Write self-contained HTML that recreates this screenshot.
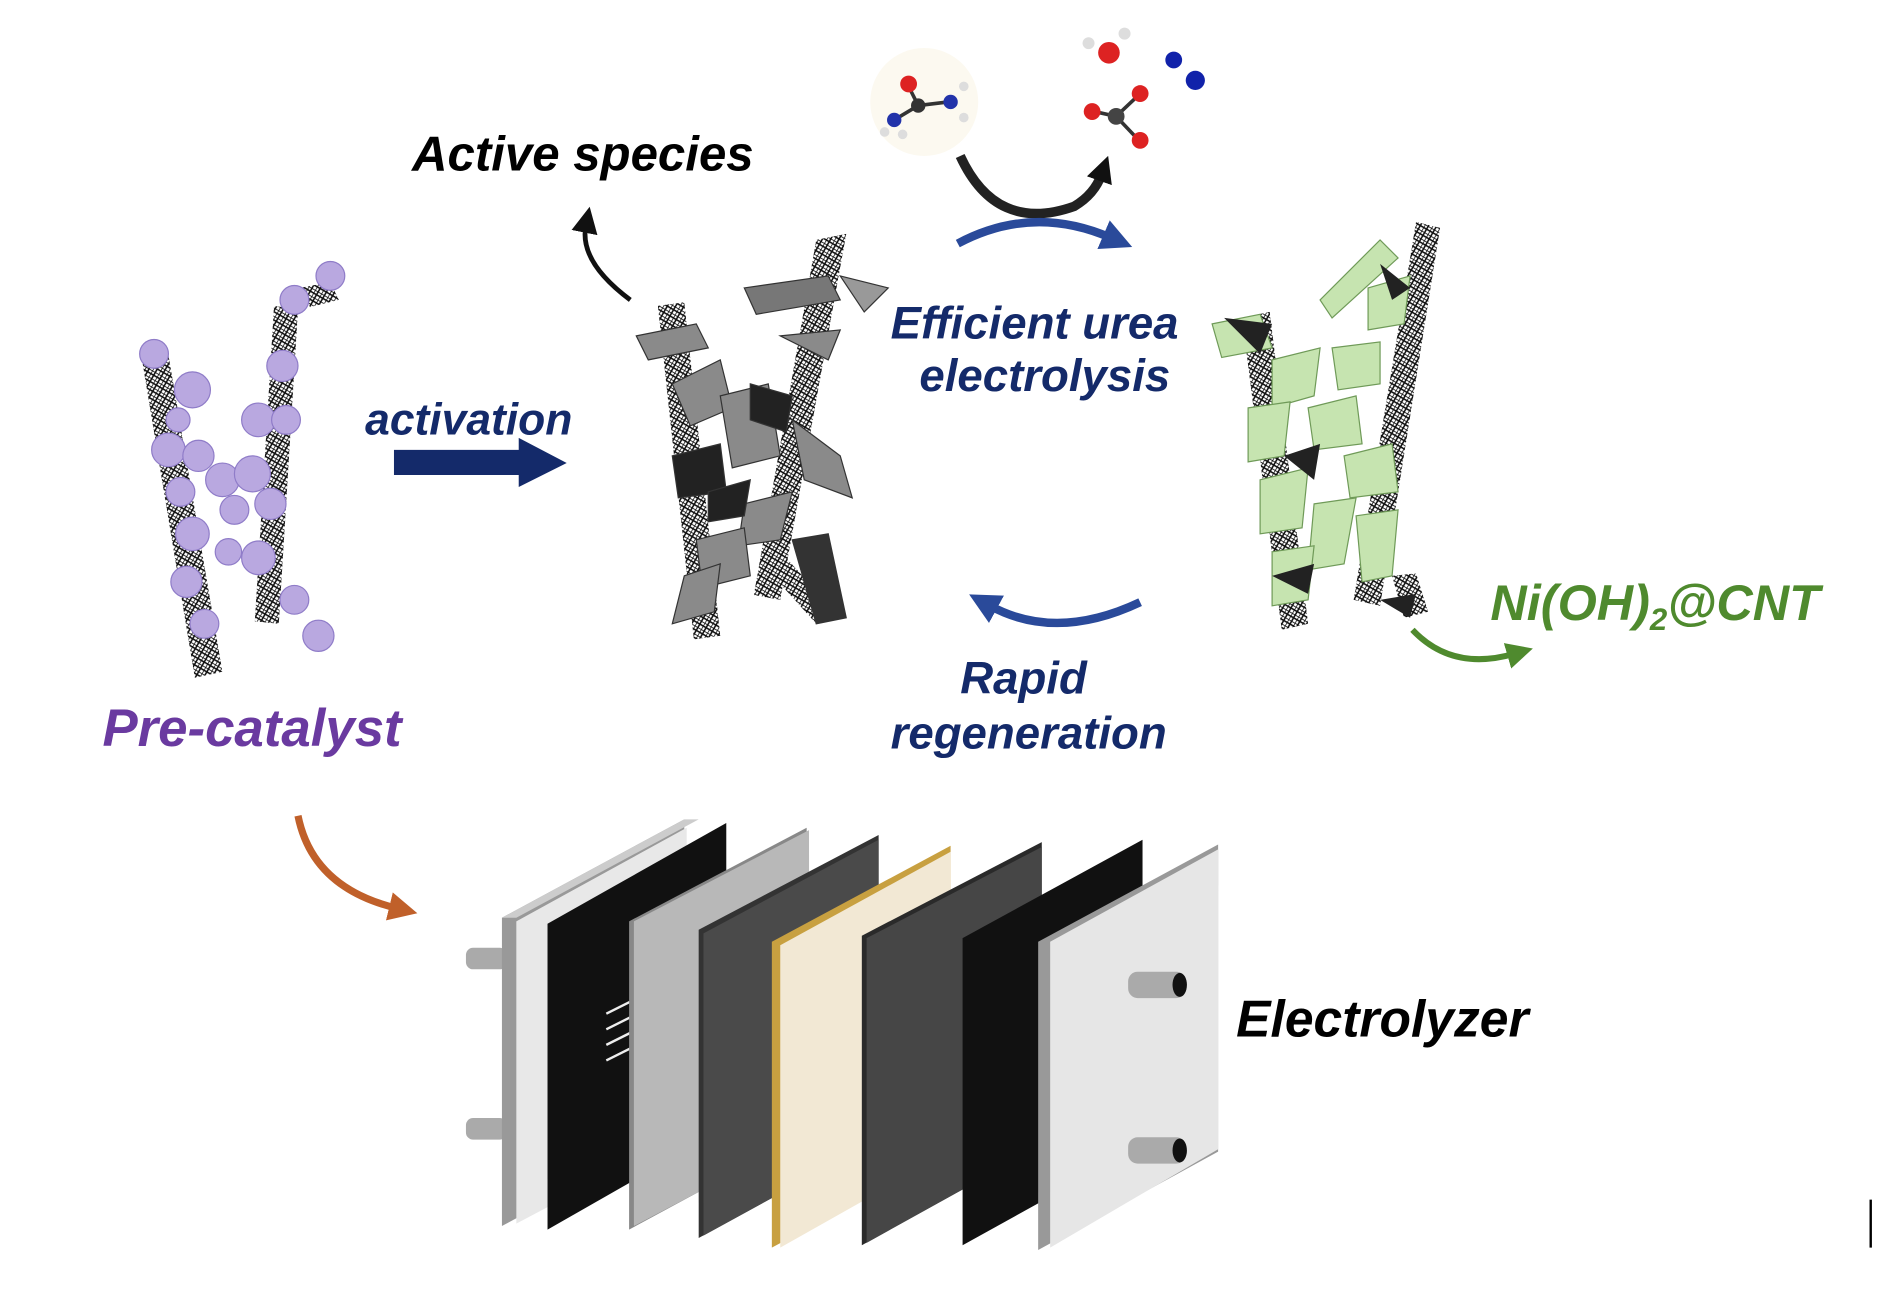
<!DOCTYPE html>
<html><head><meta charset="utf-8"><style>
html,body{margin:0;padding:0;background:#fff;width:1882px;height:1304px;overflow:hidden}
svg{display:block}
text{font-family:"Liberation Sans",sans-serif;font-weight:bold;font-style:italic}
</style></head><body>
<svg width="1882" height="1304" viewBox="0 0 1568 1087" xmlns="http://www.w3.org/2000/svg">
<defs>
<pattern id="hx" width="6" height="6" patternUnits="userSpaceOnUse" patternTransform="rotate(30)">
<rect width="6" height="6" fill="#fff"/><path d="M0 0H6M0 3H6M0 0V6M3 0V6" stroke="#111" stroke-width="1.3"/></pattern>
<marker id="ab" markerUnits="userSpaceOnUse" markerWidth="22" markerHeight="22" refX="6" refY="11" orient="auto"><path d="M0 0L22 11L0 22z" fill="#111"/></marker>
<marker id="abl" markerUnits="userSpaceOnUse" markerWidth="26" markerHeight="26" refX="6" refY="13" orient="auto"><path d="M0 0L26 13L0 26z" fill="#2a4a9a"/></marker>
<marker id="ag" markerUnits="userSpaceOnUse" markerWidth="22" markerHeight="22" refX="6" refY="11" orient="auto"><path d="M0 0L22 11L0 22z" fill="#4f8a2e"/></marker>
<marker id="ao" markerUnits="userSpaceOnUse" markerWidth="24" markerHeight="24" refX="6" refY="12" orient="auto"><path d="M0 0L24 12L0 24z" fill="#c0602a"/></marker>
</defs>

<!-- pre-catalyst -->
<g>
<polygon points="118,300 140,296 185,560 162,565" fill="url(#hx)"/>
<polygon points="228,255 248,258 232,520 212,518" fill="url(#hx)"/>
<polygon points="250,240 275,235 282,250 258,256" fill="url(#hx)"/>
<g fill="#b9a8e0" stroke="#8f7cc8" stroke-width="1">
<circle cx="128" cy="295" r="12"/><circle cx="160" cy="325" r="15"/><circle cx="140" cy="375" r="14"/><circle cx="165" cy="380" r="13"/>
<circle cx="185" cy="400" r="14"/><circle cx="150" cy="410" r="12"/><circle cx="160" cy="445" r="14"/><circle cx="155" cy="485" r="13"/>
<circle cx="170" cy="520" r="12"/><circle cx="245" cy="250" r="12"/><circle cx="275" cy="230" r="12"/><circle cx="235" cy="305" r="13"/>
<circle cx="215" cy="350" r="14"/><circle cx="238" cy="350" r="12"/><circle cx="210" cy="395" r="15"/><circle cx="225" cy="420" r="13"/>
<circle cx="195" cy="425" r="12"/><circle cx="215" cy="465" r="14"/><circle cx="245" cy="500" r="12"/><circle cx="265" cy="530" r="13"/>
<circle cx="190" cy="460" r="11"/><circle cx="148" cy="350" r="10"/></g>
</g>

<!-- middle -->
<g>
<polygon points="548,255 570,252 600,530 578,533" fill="url(#hx)"/>
<polygon points="680,200 705,195 650,500 628,496" fill="url(#hx)"/>
<polygon points="635,470 655,465 700,515 680,520" fill="url(#hx)"/>
<g fill="#8a8a8a" stroke="#333" stroke-width="1">
<polygon points="530,280 580,270 590,290 540,300"/><polygon points="560,320 600,300 610,340 575,355"/>
<polygon points="620,240 690,230 700,250 630,262" fill="#777"/><polygon points="650,280 700,275 690,300"/>
<polygon points="600,330 640,320 650,380 610,390"/><polygon points="660,350 700,380 710,415 670,400"/>
<polygon points="560,380 600,370 605,410 565,415" fill="#222"/><polygon points="620,420 660,410 650,450 615,455"/>
<polygon points="580,450 620,440 625,480 585,490"/><polygon points="660,450 690,445 705,515 680,520" fill="#333"/>
<polygon points="625,320 660,330 655,360 625,350" fill="#222"/><polygon points="570,480 600,470 595,510 560,520"/>
<polygon points="700,230 740,240 720,260" fill="#999"/><polygon points="590,410 625,400 620,430 590,435" fill="#222"/>
</g></g>

<!-- right green -->
<g>
<polygon points="1035,265 1058,260 1090,520 1068,525" fill="url(#hx)"/>
<polygon points="1180,185 1200,190 1150,505 1128,500" fill="url(#hx)"/>
<polygon points="1160,480 1180,478 1190,510 1170,515" fill="url(#hx)"/>
<g fill="#c6e4b0" stroke="#6f9a58" stroke-width="1">
<polygon points="1010,270 1050,262 1060,290 1018,298"/><polygon points="1100,250 1150,200 1165,215 1110,265"/>
<polygon points="1060,300 1100,290 1095,330 1060,340"/><polygon points="1110,290 1150,285 1150,320 1115,325"/>
<polygon points="1040,340 1075,335 1070,380 1040,385"/><polygon points="1090,340 1130,330 1135,370 1095,375"/>
<polygon points="1120,380 1160,370 1165,410 1125,415"/><polygon points="1050,400 1090,390 1085,440 1050,445"/>
<polygon points="1095,420 1130,415 1120,470 1090,475"/><polygon points="1130,430 1165,425 1160,480 1135,485"/>
<polygon points="1060,460 1095,455 1090,500 1060,505"/><polygon points="1140,240 1175,230 1170,270 1140,275"/>
</g>
<g fill="#222"><polygon points="1020,265 1060,270 1050,295"/><polygon points="1150,220 1175,240 1160,250"/>
<polygon points="1070,380 1100,370 1095,400"/><polygon points="1150,500 1180,495 1175,515"/><polygon points="1060,480 1095,470 1090,495"/></g>
</g>

<!-- molecules -->
<circle cx="770" cy="85" r="45" fill="#fbf7ea" opacity="0.7"/>
<g stroke="#333" stroke-width="3">
<line x1="757" y1="72" x2="765" y2="88"/><line x1="765" y1="88" x2="745" y2="100"/><line x1="765" y1="88" x2="790" y2="85"/>
<line x1="930" y1="97" x2="912" y2="93"/><line x1="930" y1="97" x2="948" y2="80"/><line x1="930" y1="97" x2="948" y2="116"/></g>
<circle cx="757" cy="70" r="7" fill="#d22"/><circle cx="765" cy="88" r="6" fill="#333"/><circle cx="745" cy="100" r="6" fill="#23a"/>
<circle cx="792" cy="85" r="6" fill="#23a"/><circle cx="737" cy="110" r="4" fill="#ddd"/><circle cx="752" cy="112" r="4" fill="#ddd"/>
<circle cx="803" cy="72" r="4" fill="#ddd"/><circle cx="803" cy="98" r="4" fill="#ddd"/>
<circle cx="924" cy="44" r="9" fill="#d22"/><circle cx="907" cy="36" r="5" fill="#ddd"/><circle cx="937" cy="28" r="5" fill="#ddd"/>
<circle cx="978" cy="50" r="7" fill="#12a"/><circle cx="996" cy="67" r="8" fill="#12a"/>
<circle cx="930" cy="97" r="7" fill="#444"/><circle cx="910" cy="93" r="7" fill="#d22"/><circle cx="950" cy="78" r="7" fill="#d22"/><circle cx="950" cy="117" r="7" fill="#d22"/>

<!-- arrows -->
<path d="M525 250 Q482 218 488 188" fill="none" stroke="#111" stroke-width="4" marker-end="url(#ab)"/>
<path d="M800 130 Q830 195 895 172 Q912 162 918 145" fill="none" stroke="#222" stroke-width="8" marker-end="url(#ab)"/>
<path d="M798 203 Q860 170 925 198" fill="none" stroke="#2a4a9a" stroke-width="7" marker-end="url(#abl)"/>
<path d="M950 502 Q880 535 825 505" fill="none" stroke="#2a4a9a" stroke-width="7" marker-end="url(#abl)"/>
<path d="M1177 525 Q1210 560 1262 545" fill="none" stroke="#4f8a2e" stroke-width="5" marker-end="url(#ag)"/>
<path d="M248 680 Q260 740 330 757" fill="none" stroke="#c0602a" stroke-width="6" marker-end="url(#ao)"/>
<polygon points="328,375 432,375 432,365 472,386 432,406 432,396 328,396" fill="#142a6a"/>

<!-- pins left -->
<rect x="388" y="790" width="34" height="18" rx="6" fill="#aaa"/><rect x="388" y="932" width="34" height="18" rx="6" fill="#aaa"/>

<!-- plates -->
<g>
<polygon points="418,765 570,683 570,940 418,1022" fill="#999"/><polygon points="430,765 582,683 570,683 418,765" fill="#ccc"/>
<polygon points="430,768 572,690 572,945 430,1020" fill="#e8e8e8"/>
<polygon points="456,770 605,686 605,940 456,1025" fill="#111"/>
<g stroke="#eee" stroke-width="2"><line x1="505" y1="845" x2="525" y2="835"/><line x1="505" y1="858" x2="525" y2="848"/><line x1="505" y1="871" x2="525" y2="861"/><line x1="505" y1="884" x2="525" y2="874"/></g>
<polygon points="524,768 672,690 672,945 524,1025" fill="#888"/><polygon points="528,768 674,692 674,945 528,1022" fill="#b8b8b8"/>
<polygon points="582,775 732,696 732,950 582,1032" fill="#333"/><polygon points="586,778 732,700 732,950 586,1030" fill="#4a4a4a"/>
<polygon points="643,785 792,705 792,960 643,1040" fill="#c8a040"/><polygon points="650,788 792,710 792,960 650,1040" fill="#f2e8d4"/>
<polygon points="718,780 868,702 868,955 718,1038" fill="#2a2a2a"/><polygon points="722,782 868,706 868,955 722,1036" fill="#464646"/>
<polygon points="802,782 952,700 952,955 802,1038" fill="#111"/>
<polygon points="865,785 1015,704 1015,960 865,1042" fill="#999"/><polygon points="875,785 1015,708 1015,958 875,1040" fill="#e6e6e6"/>
</g>
<g><rect x="940" y="810" width="48" height="22" rx="8" fill="#aaa"/><ellipse cx="983" cy="821" rx="6" ry="10" fill="#111"/>
<rect x="940" y="948" width="48" height="22" rx="8" fill="#aaa"/><ellipse cx="983" cy="959" rx="6" ry="10" fill="#111"/></g>
<line x1="1559" y1="1000" x2="1559" y2="1040" stroke="#000" stroke-width="2"/>

<!-- labels -->
<text x="343" y="142" font-size="41" fill="#000">Active species</text>
<text x="304" y="362" font-size="37" fill="#142a6a">activation</text>
<text x="742" y="282" font-size="38" fill="#142a6a">Efficient urea</text>
<text x="766" y="326" font-size="38" fill="#142a6a">electrolysis</text>
<text x="800" y="578" font-size="38" fill="#142a6a">Rapid</text>
<text x="742" y="624" font-size="38" fill="#142a6a">regeneration</text>
<text x="85" y="622" font-size="44" fill="#6a3aa0">Pre-catalyst</text>
<text x="1242" y="517" font-size="42" fill="#4f8a2e" font-style="normal">Ni(OH)<tspan font-size="26" dy="8">2</tspan><tspan dy="-8">@CNT</tspan></text>
<text x="1030" y="864" font-size="43" fill="#000">Electrolyzer</text>
</svg>
</body></html>
